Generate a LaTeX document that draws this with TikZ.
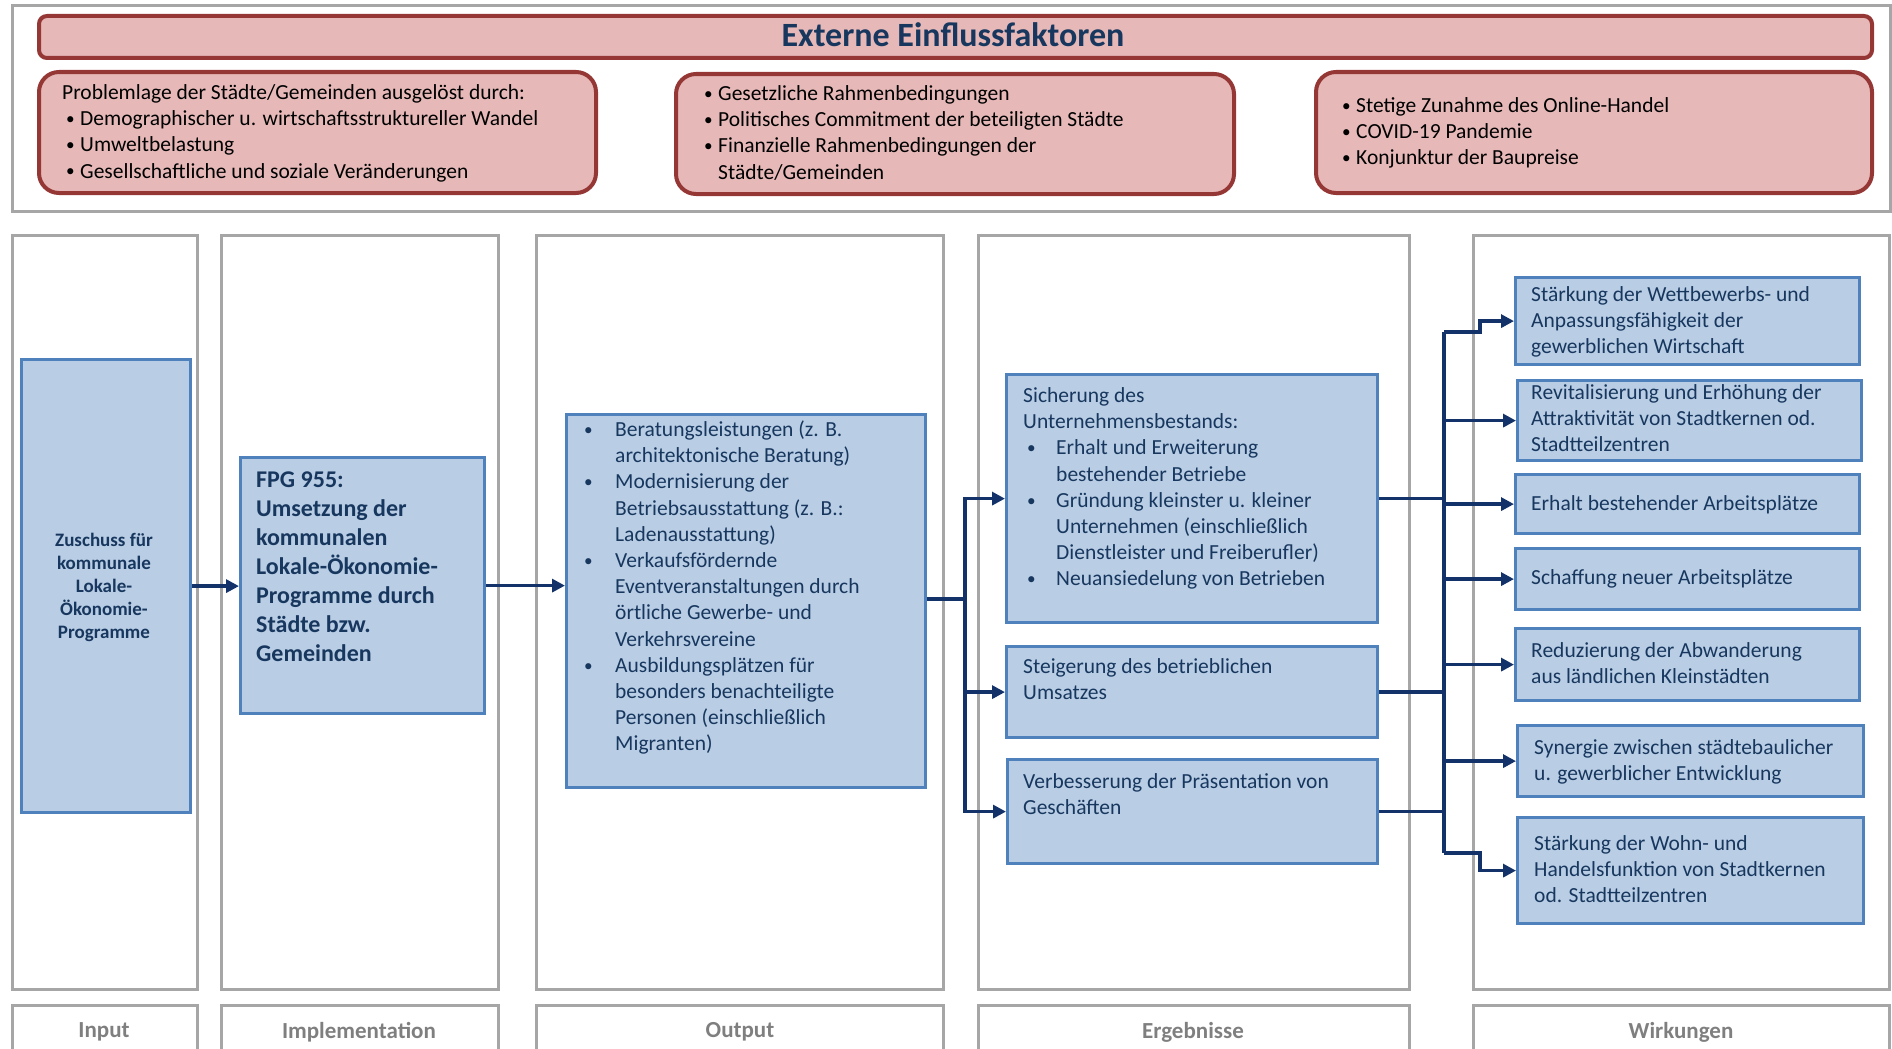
\documentclass[tikz,border=0pt]{standalone}
\usepackage{fontspec}
\setmainfont{Carlito}
\usetikzlibrary{arrows.meta,calc}

\definecolor{redfill}{RGB}{230,185,184}
\definecolor{redline}{RGB}{149,55,53}
\definecolor{bluefill}{RGB}{185,205,229}
\definecolor{blueline}{RGB}{79,129,189}
\definecolor{navy}{RGB}{23,55,94}
\definecolor{arrowcol}{RGB}{18,50,105}
\definecolor{framegray}{RGB}{166,166,166}
\definecolor{labelgray}{RGB}{127,127,127}

% bullet line with a hanging indent of width #1, and its continuation line
\newcommand\smalldot{\raisebox{0.12ex}{\scalebox{0.8}{•}}}
\newcommand\dotline[2]{\strut\makebox[#1][l]{\smalldot}#2}
\newcommand\contline[2]{\strut\makebox[#1][l]{}#2}

% box from (x1,y1) to (x2,y2) in pixel units
\newcommand\boxat[6]{%
  \node[#2, minimum width={(#5-#3)*1pt}, minimum height={(#6-#4)*1pt},
        anchor=north west] (#1) at (#3,#4) {};}

\tikzset{
  redbox/.style={draw=redline, fill=redfill, line width=4pt, rounded corners=20pt, inner sep=0pt},
  titlebar/.style={redbox, rounded corners=8pt},
  bluebox/.style={draw=blueline, fill=bluefill, line width=3.2pt, inner sep=0pt},
  frame/.style={draw=framegray, line width=3pt},
  redtext/.style={anchor=north west, inner sep=0pt, align=left, text=black,
                  font=\fontsize{21.5}{26.2}\selectfont},
  bluetext/.style={anchor=north west, inner sep=0pt, align=left, text=navy,
                   font=\fontsize{21.5}{26.2}\selectfont},
  collabel/.style={inner sep=0pt, text=labelgray, font=\fontsize{23}{27}\selectfont\bfseries},
  link/.style={draw=arrowcol, line width=3.5pt},
  arr/.style={link, -{Triangle[length=13pt,width=13pt]}},
}

\begin{document}
\begin{tikzpicture}[x=1pt,y=-1pt]
\useasboundingbox (0,0) rectangle (1892,1049);

% ---------- external factors ----------
\draw[frame] (12,6) rectangle (1890,211);
\boxat{tbar}{titlebar}{37}{14}{1870}{56}
\node[inner sep=0pt, text=navy, font=\fontsize{34}{40}\selectfont\bfseries] (ttl) at (953,35) {Externe Einflussfaktoren};

\boxat{r1}{redbox}{37}{70}{594}{191}
\boxat{r2}{redbox}{674}{72}{1232}{192}
\boxat{r3}{redbox}{1314}{70}{1870}{191}

\node[redtext] (r1t) at (62,81) {\strut Problemlage der Städte/Gemeinden ausgelöst durch:\\
  \hspace*{4pt}\dotline{14pt}{Demographischer u. wirtschaftsstruktureller Wandel}\\
  \hspace*{4pt}\dotline{14pt}{Umweltbelastung}\\
  \hspace*{4pt}\dotline{14pt}{Gesellschaftliche und soziale Veränderungen}};

\node[redtext] (r2t) at (704,82) {\dotline{14pt}{Gesetzliche Rahmenbedingungen}\\
  \dotline{14pt}{Politisches Commitment der beteiligten Städte}\\
  \dotline{14pt}{Finanzielle Rahmenbedingungen der}\\
  \contline{14pt}{Städte/Gemeinden}};

\node[redtext] (r3t) at (1342,94) {\dotline{14pt}{Stetige Zunahme des Online-Handel}\\
  \dotline{14pt}{COVID-19 Pandemie}\\
  \dotline{14pt}{Konjunktur der Baupreise}};

% ---------- column frames ----------
\draw[frame] (12,235) rectangle (197,989);
\draw[frame] (221,235) rectangle (498,989);
\draw[frame] (536,235) rectangle (943,989);
\draw[frame] (978,235) rectangle (1409,989);
\draw[frame] (1473,235) rectangle (1889,989);

% column captions (boxes open at the lower page edge)
\draw[frame] (12,1049) -- (12,1005) -- (197,1005) -- (197,1049);
\draw[frame] (221,1049) -- (221,1005) -- (498,1005) -- (498,1049);
\draw[frame] (536,1049) -- (536,1005) -- (943,1005) -- (943,1049);
\draw[frame] (978,1049) -- (978,1005) -- (1409,1005) -- (1409,1049);
\draw[frame] (1473,1049) -- (1473,1005) -- (1889,1005) -- (1889,1049);
\node[collabel] (lin) at (104,1032) {Input};
\node[collabel] (lim) at (359,1032) {Implementation};
\node[collabel] (lout) at (740,1032) {Output};
\node[collabel] (lerg) at (1193,1032) {Ergebnisse};
\node[collabel] (lwir) at (1681,1032) {Wirkungen};

% ---------- input and implementation ----------
\boxat{inp}{bluebox}{20}{358}{189}{811}
\node[inner sep=0pt, align=center, text=navy, anchor=north,
      font=\fontsize{19}{23}\selectfont\bfseries] (inpt) at (104,530)
  {\strut Zuschuss für\\\strut kommunale\\\strut Lokale-\\\strut Ökonomie-\\\strut Programme};

\boxat{fpg}{bluebox}{239}{456}{483}{712}
\node[inner sep=0pt, align=left, text=navy, anchor=north west,
      font=\fontsize{24}{29}\selectfont\bfseries] (fpgt) at (256,467)
  {\strut FPG 955:\\\strut Umsetzung der\\\strut kommunalen\\\strut Lokale-Ökonomie-\\\strut Programme durch\\\strut Städte bzw.\\\strut Gemeinden};

% ---------- output ----------
\boxat{out}{bluebox}{565}{413}{924}{786}
\node[bluetext] (outt) at (584,418) {\dotline{31pt}{Beratungsleistungen (z. B.}\\
  \contline{31pt}{architektonische Beratung)}\\
  \dotline{31pt}{Modernisierung der}\\
  \contline{31pt}{Betriebsausstattung (z. B.:}\\
  \contline{31pt}{Ladenausstattung)}\\
  \dotline{31pt}{Verkaufsfördernde}\\
  \contline{31pt}{Eventveranstaltungen durch}\\
  \contline{31pt}{örtliche Gewerbe- und}\\
  \contline{31pt}{Verkehrsvereine}\\
  \dotline{31pt}{Ausbildungsplätzen für}\\
  \contline{31pt}{besonders benachteiligte}\\
  \contline{31pt}{Personen (einschließlich}\\
  \contline{31pt}{Migranten)}};

% ---------- results ----------
\boxat{e1}{bluebox}{1005}{373}{1376}{621}
\node[bluetext] (e1t) at (1023,384) {\strut Sicherung des\\
  \strut Unternehmensbestands:\\
  \hspace*{4pt}\dotline{29pt}{Erhalt und Erweiterung}\\
  \hspace*{4pt}\contline{29pt}{bestehender Betriebe}\\
  \hspace*{4pt}\dotline{29pt}{Gründung kleinster u. kleiner}\\
  \hspace*{4pt}\contline{29pt}{Unternehmen (einschließlich}\\
  \hspace*{4pt}\contline{29pt}{Dienstleister und Freiberufler)}\\
  \hspace*{4pt}\dotline{29pt}{Neuansiedelung von Betrieben}};

\boxat{e2}{bluebox}{1005}{645}{1376}{736}
\node[bluetext] (e2t) at (1023,655) {\strut Steigerung des betrieblichen\\\strut Umsatzes};

\boxat{e3}{bluebox}{1006}{758}{1376}{862}
\node[bluetext] (e3t) at (1023,770) {\strut Verbesserung der Präsentation von\\\strut Geschäften};

% ---------- impacts ----------
\boxat{w1}{bluebox}{1514}{276}{1858}{363}
\node[bluetext] (w1t) at (1531,283) {\strut Stärkung der Wettbewerbs- und\\\strut Anpassungsfähigkeit der\\\strut gewerblichen Wirtschaft};
\boxat{w2}{bluebox}{1516}{379}{1860}{459}
\node[bluetext] (w2t) at (1531,381) {\strut Revitalisierung und Erhöhung der\\\strut Attraktivität von Stadtkernen od.\\\strut Stadtteilzentren};
\boxat{w3}{bluebox}{1514}{473}{1858}{532}
\node[bluetext] (w3t) at (1531,492) {\strut Erhalt bestehender Arbeitsplätze};
\boxat{w4}{bluebox}{1514}{547}{1858}{608}
\node[bluetext] (w4t) at (1531,566) {\strut Schaffung neuer Arbeitsplätze};
\boxat{w5}{bluebox}{1514}{627}{1858}{699}
\node[bluetext] (w5t) at (1531,639) {\strut Reduzierung der Abwanderung\\\strut aus ländlichen Kleinstädten};
\boxat{w6}{bluebox}{1516}{724}{1862}{795}
\node[bluetext] (w6t) at (1534,736) {\strut Synergie zwischen städtebaulicher\\\strut u. gewerblicher Entwicklung};
\boxat{w7}{bluebox}{1516}{816}{1862}{922}
\node[bluetext] (w7t) at (1534,832) {\strut Stärkung der Wohn- und\\\strut Handelsfunktion von Stadtkernen\\\strut od. Stadtteilzentren};

% ---------- connectors ----------
\draw[arr] (inp.east) -- (inp.east -| fpg.west);
\draw[arr] (fpg.east) -- (fpg.east -| out.west);

\coordinate (obus) at (965,599);
\draw[link] (out.east |- obus) -- (obus);
\draw[arr] (obus) |- (e1.west);
\draw[arr] (obus) |- (e2.west);
\draw[arr] (obus) |- (e3.west);

\coordinate (btop) at (1444,332);
\coordinate (bbot) at (1444,853);
\draw[link] (btop) -- (bbot);
\draw[link] (e1.east) -- (e1.east -| btop);
\draw[link] (e2.east) -- (e2.east -| btop);
\draw[link] (e3.east) -- (e3.east -| btop);
\draw[arr] (btop) -- ++(36,0) |- (w1.west);
\draw[arr] (btop |- w2.west) -- (w2.west);
\draw[arr] (btop |- w3.west) -- (w3.west);
\draw[arr] (btop |- w4.west) -- (w4.west);
\draw[arr] (btop |- w5.west) -- (w5.west);
\draw[arr] (btop |- w6.west) -- (w6.west);
\draw[arr] (bbot) -- ++(36,0) |- (w7.west);
\end{tikzpicture}
\end{document}
